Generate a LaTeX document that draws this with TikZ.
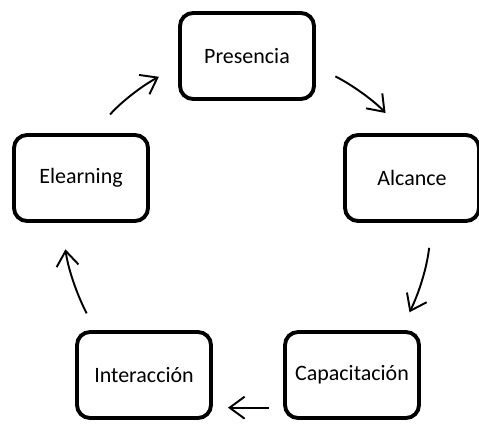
\documentclass[tikz,border=0pt]{standalone}
\usepackage{fontspec}
\setmainfont{Carlito}
\usepackage{tikz}
\usetikzlibrary{arrows.meta}

\begin{document}
\begin{tikzpicture}[x=0.02cm, y=-0.02cm, line width=1.1pt, >={Straight Barb[length=0.3cm,width=0.44cm]}]
        \tikzstyle{every node}=[font=\fontsize{12.5}{15}\selectfont]
        \tikzstyle{fase}=[draw, line width=2.2pt, rounded corners=0.26cm, outer sep=0pt, minimum width=2.68cm, minimum height=1.72cm]
        \useasboundingbox (0,0) rectangle (479,423);
        \node [fase] (p) at (247,56) {Presencia};
        \node [fase] (a) at (412,178) {Alcance};
        \node [fase] (c) at (352,375) {Capacitación};
        \node [fase] (i) at (144,375) {Interacción};
        \node [fase] (e) at (81,178) {Elearning};
        \path[->] (e.76) edge[bend left=10, shorten <=0.55cm, shorten >=0.48cm] (p.188)
                  (p.352) edge[bend left=10, shorten <=0.48cm, shorten >=0.6cm] (a.98)
                  (a.295) edge[bend left=10, shorten <=0.54cm, shorten >=0.44cm] (c.42)
                  (c.206) edge[shorten <=0.32cm, shorten >=0.34cm] (i.334)
                  (i.138) edge[bend left=10, shorten <=0.42cm, shorten >=0.57cm] (e.246);
      \end{tikzpicture}
\end{document}
